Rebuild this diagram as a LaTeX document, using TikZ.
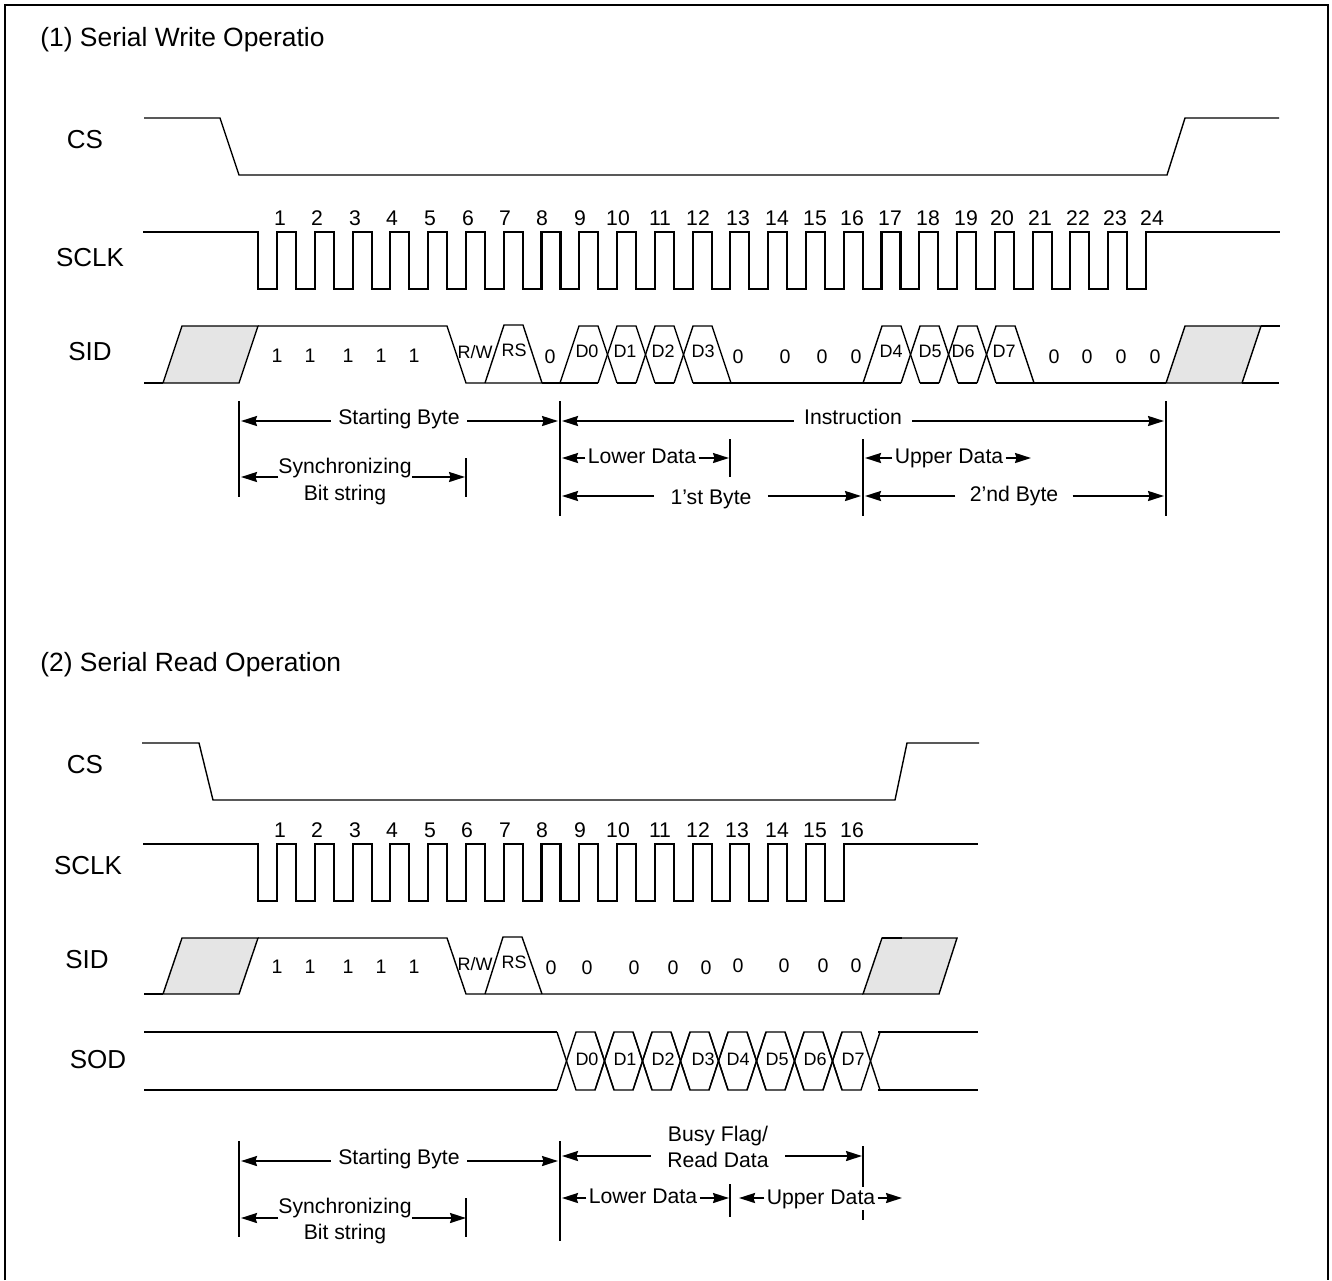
\documentclass[tikz,border=0pt]{standalone}
\usepackage{fontspec}
\setmainfont{Liberation Sans}
\usetikzlibrary{arrows.meta}
\definecolor{hatchgray}{RGB}{229,229,229}

\begin{document}
\begin{tikzpicture}[x=0.5pt, y=-0.5pt,
    sig/.style={line width=0.7pt, line join=miter},
    sigthick/.style={line width=1.05pt, line cap=rect},
    clk/.style={line width=1.05pt, line join=miter, line cap=rect},
    tick/.style={line width=1pt},
    dim/.style={line width=1pt, -{Stealth[length=8pt, width=5pt, inset=0.8pt]}},
    unknown/.style={sig, fill=hatchgray},
    title/.style={anchor=base west, inner sep=0pt, font=\fontsize{13.2}{15}\selectfont},
    signame/.style={anchor=base, inner sep=0pt, font=\fontsize{13}{15}\selectfont},
    num/.style={anchor=base, inner sep=0pt, font=\fontsize{10.6}{13}\selectfont},
    bit/.style={anchor=base, inner sep=0pt, font=\fontsize{9.8}{11}\selectfont},
    data/.style={anchor=base, inner sep=0pt, font=\fontsize{9}{10}\selectfont},
    dimtext/.style={anchor=base, inner sep=0pt, font=\fontsize{10.6}{13}\selectfont}]
  \useasboundingbox (0,0) rectangle (1332,1280);
  \draw[line width=1.2pt] (5,1280) -- (5,5) -- (1328,5) -- (1328,1280);
  \begin{scope}
    \node[title] (wtitle) at (40,46) {(1) Serial Write Operatio};
    \node[signame] (wcs) at (85,148) {CS};
    \node[signame] (wsclk) at (90,266) {SCLK};
    \node[signame] (wsid) at (90,360) {SID};
    \draw[sig] (144,118) -- (220,118) -- (239,175) -- (1167,175) -- (1185,118) -- (1279,118);
    \draw[clk] (144,232) -- (258,232) -- (258,289) -- (277,289);
    \foreach \k in {0,...,22}
      \draw[clk] (277+37.78*\k,289) -- (277+37.78*\k,232) -- (296+37.78*\k,232) -- (296+37.78*\k,289) -- (314.78+37.78*\k,289);
    \draw[clk] (1146,289) -- (1146,232) -- (1279,232);
    \foreach \x/\n in {280/1,317/2,355/3,392/4,430/5,468/6,505/7,542/8,580/9,618/10,660/11,698/12,738/13,777/14,815/15,852/16,890/17,928/18,966/19,1002/20,1040/21,1078/22,1115/23,1152/24}
      \node[num] (wn\n) at (\x,225) {\n};
    \draw[sig] (144,383) -- (163,383);
    \draw[unknown] (163,383) -- (182,326) -- (258,326) -- (239,383) -- cycle;
    \draw[sig] (258,326) -- (447,326) -- (466,383) -- (560,383);
    \draw[sig] (485,383) -- (504,325) -- (523,325) -- (542,383);
    \draw[sigthick] (543,383) -- (559,383);
    \foreach \k in {0,...,3}
      \draw[sig] (560+38*\k,383) -- (579+38*\k,326) -- (598+38*\k,326) -- (617+38*\k,383);
    \draw[sig] (560,383) -- (598,383);
    \draw[sig] (617,383) -- (636,383);
    \draw[sig] (655,383) -- (674,383);
    \draw[sig] (693,383) -- (863,383);
    \foreach \k in {0,...,3}
      \draw[sig] (863+38*\k,383) -- (882+38*\k,326) -- (901+38*\k,326) -- (920+38*\k,383);
    \draw[sig] (863,383) -- (901,383);
    \draw[sig] (920,383) -- (939,383);
    \draw[sig] (958,383) -- (977,383);
    \draw[sig] (996,383) -- (1166,383);
    \draw[sigthick] (1035,383) -- (1052,383);
    \draw[unknown] (1166,383) -- (1185,326) -- (1261,326) -- (1242,383) -- cycle;
    \draw[sigthick] (1262,326) -- (1279,326);
    \draw[sig] (1242,383) -- (1279,383);
    \foreach \x [count=\i] in {277,310,348,381,414}
      \node[bit] (wone\i) at (\x,362) {1};
    \foreach \x [count=\i] in {550,738,785,822,856,1054,1087,1121,1155}
      \node[bit] (wzero\i) at (\x,363) {0};
    \node[data] (wrw) at (475,358) {R/W};
    \node[data] (wrs) at (514,356) {RS};
    \foreach \x/\n in {587/0,625/1,663/2,703/3,891/4,930/5,963/6,1004/7}
      \node[data] (wd\n) at (\x,357) {D\n};
    \draw[tick] (239,401) -- (239,497);
    \draw[tick] (466,458) -- (466,497);
    \draw[tick] (560,401) -- (560,516);
    \draw[tick] (730,439) -- (730,477);
    \draw[tick] (863,439) -- (863,516);
    \draw[tick] (1166,401) -- (1166,516);
    \node[dimtext, inner xsep=3.5pt] (wstart) at (399,424) {Starting Byte};
    \node[dimtext, inner xsep=5pt] (wins) at (853,424) {Instruction};
    \node[dimtext, align=center] (wsync) at (345,473) {Synchronizing};
    \node[dimtext] (wbit) at (345,500) {Bit string};
    \node[dimtext, inner xsep=1pt] (wlow) at (642,463) {Lower Data};
    \node[dimtext, inner xsep=1pt] (wup) at (949,463) {Upper Data};
    \node[dimtext, inner xsep=8pt] (wfirst) at (711,504) {1'st Byte};
    \node[dimtext, inner xsep=7pt] (wsecond) at (1014,501) {2'nd Byte};
    \coordinate (wa) at (241,421);
    \coordinate (wb) at (558,421);
    \coordinate (wc) at (562,421);
    \coordinate (wd) at (1164,421);
    \coordinate (we) at (241,477);
    \coordinate (wf) at (465,477);
    \coordinate (wg) at (562,458);
    \coordinate (wh) at (729,458);
    \coordinate (wi) at (865,458);
    \coordinate (wj) at (1031,458);
    \coordinate (wk) at (562,496);
    \coordinate (wl) at (861,496);
    \coordinate (wm) at (865,496);
    \coordinate (wo) at (1164,496);
    \draw[dim] (wstart.west |- wa) -- (wa);
    \draw[dim] (wstart.east |- wb) -- (wb);
    \draw[dim] (wins.west |- wc) -- (wc);
    \draw[dim] (wins.east |- wd) -- (wd);
    \draw[dim] (wsync.west |- we) -- (we);
    \draw[dim] (wsync.east |- wf) -- (wf);
    \draw[dim] (wlow.west |- wg) -- (wg);
    \draw[dim] (wlow.east |- wh) -- (wh);
    \draw[dim] (wup.west |- wi) -- (wi);
    \draw[dim] (wup.east |- wj) -- (wj);
    \draw[dim] (wfirst.west |- wk) -- (wk);
    \draw[dim] (wfirst.east |- wl) -- (wl);
    \draw[dim] (wsecond.west |- wm) -- (wm);
    \draw[dim] (wsecond.east |- wo) -- (wo);
  \end{scope}
  \begin{scope}
    \node[title] (rtitle) at (40,671) {(2) Serial Read Operation};
    \node[signame] (rcs) at (85,773) {CS};
    \node[signame] (rsclk) at (88,874) {SCLK};
    \node[signame] (rsid) at (87,968) {SID};
    \node[signame] (rsod) at (98,1068) {SOD};
    \draw[sig] (142,743) -- (199,743) -- (213,800) -- (895,800) -- (907,743) -- (979,743);
    \draw[clk] (144,844) -- (258,844) -- (258,901) -- (277,901);
    \foreach \k in {0,...,14}
      \draw[clk] (277+37.78*\k,901) -- (277+37.78*\k,844) -- (296+37.78*\k,844) -- (296+37.78*\k,901) -- (314.78+37.78*\k,901);
    \draw[clk] (844,901) -- (844,844) -- (977,844);
    \foreach \x/\n in {280/1,317/2,355/3,392/4,430/5,467/6,505/7,542/8,580/9,618/10,660/11,698/12,737/13,777/14,815/15,852/16}
      \node[num] (rn\n) at (\x,837) {\n};
    \draw[sig] (144,994) -- (163,994);
    \draw[unknown] (163,994) -- (182,938) -- (258,938) -- (239,994) -- cycle;
    \draw[sig] (258,938) -- (447,938) -- (466,994) -- (863,994);
    \draw[sig] (485,994) -- (503,937) -- (522,937) -- (542,994);
    \draw[unknown] (863,994) -- (882,938) -- (957,938) -- (939,994) -- cycle;
    \draw[sigthick] (883,938) -- (901,938);
    \foreach \x [count=\i] in {277,310,348,381,414}
      \node[bit] (rone\i) at (\x,973) {1};
    \foreach \x/\y [count=\i] in {551/974,587/974,634/974,673/974,706/974,738/972,784/972,823/972,856/972}
      \node[bit] (rzero\i) at (\x,\y) {0};
    \node[data] (rrw) at (475,970) {R/W};
    \node[data] (rrs) at (514,968) {RS};
    \draw[sig] (144,1032) -- (557,1032);
    \draw[sig] (144,1090) -- (557,1090);
    \foreach \k in {0,...,7} {
      \draw[sig] (557+38*\k,1032) -- (576+38*\k,1090) -- (595+38*\k,1090) -- (614+38*\k,1032);
      \draw[sig] (557+38*\k,1090) -- (576+38*\k,1032) -- (595+38*\k,1032) -- (614+38*\k,1090);
    }
    \draw[sigthick] (879,1032) -- (977,1032);
    \draw[sigthick] (879,1090) -- (977,1090);
    \foreach \x/\n in {587/0,625/1,663/2,703/3,738/4,777/5,815/6,853/7}
      \node[data] (rd\n) at (\x,1065) {D\n};
    \draw[tick] (239,1141) -- (239,1237);
    \draw[tick] (466,1198) -- (466,1237);
    \draw[tick] (560,1141) -- (560,1241);
    \draw[tick] (730,1184) -- (730,1217);
    \draw[tick] (863,1146) -- (863,1220);
    \node[dimtext, inner xsep=3.5pt] (rstart) at (399,1164) {Starting Byte};
    \node[dimtext] (rbusy) at (718,1141) {Busy Flag/};
    \node[dimtext, inner xsep=8pt] (rread) at (718,1167) {Read Data};
    \node[dimtext] (rsync) at (345,1213) {Synchronizing};
    \node[dimtext] (rbit) at (345,1239) {Bit string};
    \node[dimtext, inner xsep=1pt] (rlow) at (643,1203) {Lower Data};
    \node[dimtext, inner xsep=1pt, fill=white, inner ysep=1pt] (rup) at (821,1204) {Upper Data};
    \coordinate (ra) at (241,1161);
    \coordinate (rb) at (558,1161);
    \coordinate (rc) at (562,1156);
    \coordinate (rd) at (862,1156);
    \coordinate (re) at (241,1218);
    \coordinate (rf) at (466,1218);
    \coordinate (rg) at (562,1198);
    \coordinate (rh) at (729,1198);
    \coordinate (ri) at (739,1198);
    \coordinate (rj) at (902,1198);
    \draw[dim] (rstart.west |- ra) -- (ra);
    \draw[dim] (rstart.east |- rb) -- (rb);
    \draw[dim] (rread.west |- rc) -- (rc);
    \draw[dim] (rread.east |- rd) -- (rd);
    \draw[dim] (rsync.west |- re) -- (re);
    \draw[dim] (rsync.east |- rf) -- (rf);
    \draw[dim] (rlow.west |- rg) -- (rg);
    \draw[dim] (rlow.east |- rh) -- (rh);
    \draw[dim] (rup.west |- ri) -- (ri);
    \draw[dim] (rup.east |- rj) -- (rj);
  \end{scope}
\end{tikzpicture}
\end{document}
